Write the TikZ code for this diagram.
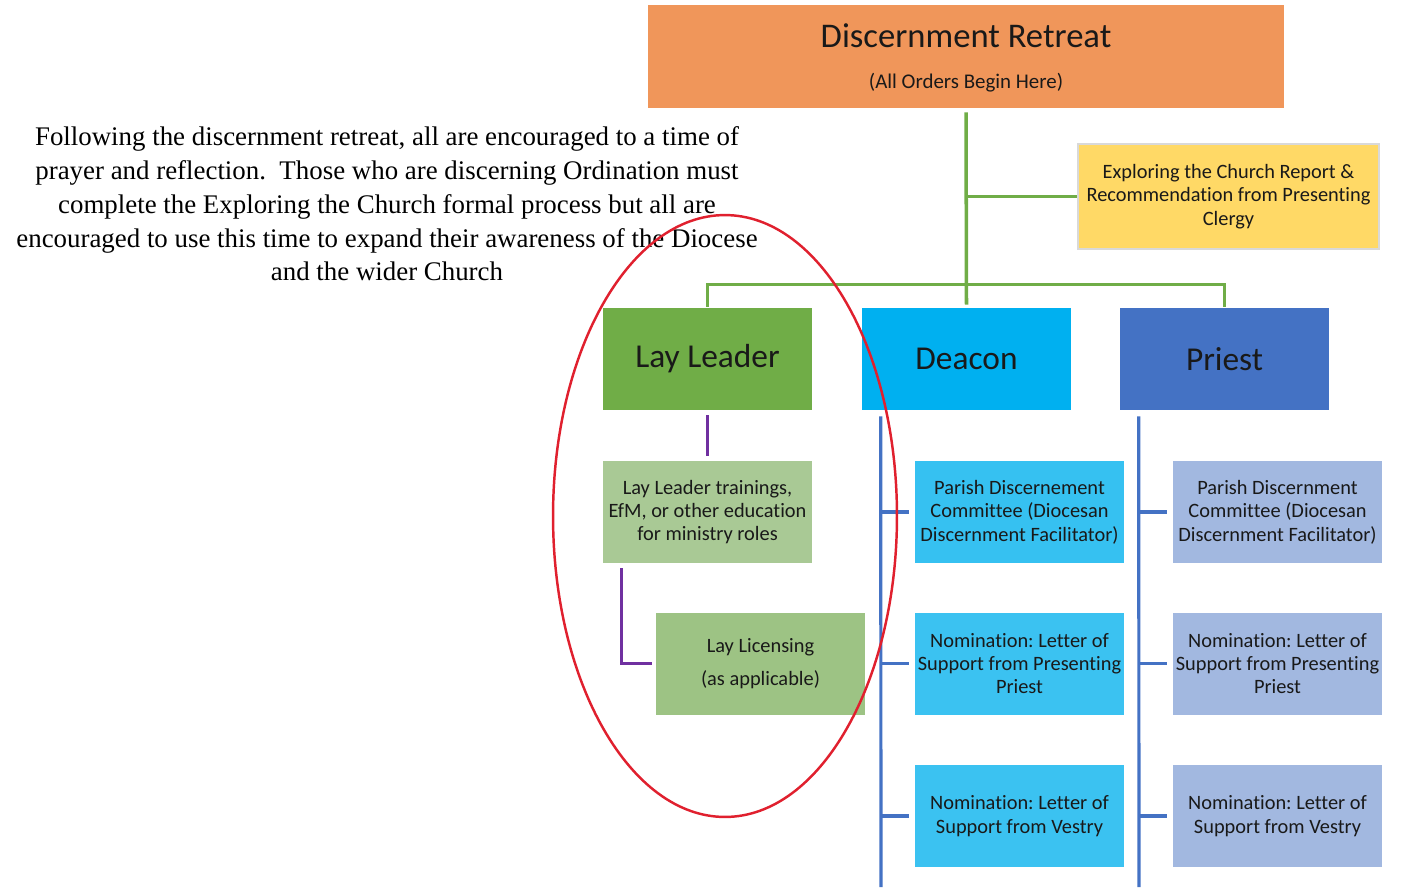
\documentclass[tikz,border=0pt]{standalone}
\usepackage{fontspec}
\setmainfont{Liberation Serif}
\newfontfamily\calib[Ligatures=NoCommon]{Carlito}
\usetikzlibrary{calc}
\frenchspacing
\definecolor{cOrange}{HTML}{F0965A}
\definecolor{cYellow}{HTML}{FFD966}
\definecolor{cYBorder}{HTML}{D9D9D9}
\definecolor{cLay}{HTML}{70AD47}
\definecolor{cDeacon}{HTML}{00B0F0}
\definecolor{cPriest}{HTML}{4472C4}
\definecolor{cTrain}{HTML}{A9C995}
\definecolor{cLic}{HTML}{9DC384}
\definecolor{cDkid}{HTML}{3BC2F1}
\definecolor{cPkid}{HTML}{A2B8E0}
\definecolor{cPurp}{HTML}{7030A0}
\definecolor{cRed}{HTML}{E0202E}
\tikzset{
  box/.style={rectangle, inner sep=0pt, align=center, text=black!90, font=\calib,
    minimum width=4.18cm, minimum height=2.04cm},
  bigbox/.style={box, font=\calib\fontsize{19}{22}\selectfont},
  smallbox/.style={box, font=\calib\fontsize{11.6}{13.3}\selectfont},
  grnline/.style={draw=cLay, line width=2pt},
  bluline/.style={draw=cPriest, line width=1.8pt},
  purline/.style={draw=cPurp, line width=1.8pt},
}
\begin{document}
\begin{tikzpicture}[x=0.02cm, y=-0.02cm]
\useasboundingbox (0,0) rectangle (1405,887);
% top box
\node[box, fill=cOrange, minimum width=12.72cm, minimum height=2.06cm] (retreat) at (966,56.5) {};
\node[font=\calib\fontsize{19.7}{22}\selectfont, text=black!90, anchor=base] (rtitle) at (966,47) {Discernment Retreat};
\node[font=\calib\fontsize{11.9}{13}\selectfont, text=black!90, anchor=base] (rsub) at (966,88) {(All Orders Begin Here)};
% exploring box
\node[smallbox, fill=cYellow, draw=cYBorder, line width=1.6pt, minimum width=6.02cm, minimum height=2.1cm] (explore) at (1228.5,196.5)
  {Exploring the Church Report \&\\ Recommendation from Presenting\\ Clergy};
% level 2
\node[bigbox, fill=cLay] (lay) at (707.5,359) {Lay Leader};
\node[bigbox, fill=cDeacon] (deacon) at (966.5,359) {Deacon};
\node[bigbox, fill=cPriest] (priest) at (1224.5,359) {Priest};
% lay children
\node[smallbox, fill=cTrain] (train) at (707.5,512) {Lay Leader trainings,\\ EfM, or other education\\ for ministry roles};
\node[smallbox, fill=cLic, font=\calib\fontsize{11.6}{18.5}\selectfont] (lic) at (760.5,663.5) {Lay Licensing\\ (as applicable)};
% deacon children
\node[smallbox, fill=cDkid!92!cDeacon] (d1) at (1019.5,512) {Parish Discernement\\ Committee (Diocesan\\ Discernment Facilitator)};
\node[smallbox, fill=cDkid] (d2) at (1019.5,663.5) {Nomination: Letter of\\ Support from Presenting\\ Priest};
\node[smallbox, fill=cDkid] (d3) at (1019.5,816) {Nomination: Letter of\\ Support from Vestry};
% priest children
\node[smallbox, fill=cPkid] (p1) at (1277.5,512) {Parish Discernment\\ Committee (Diocesan\\ Discernment Facilitator)};
\node[smallbox, fill=cPkid] (p2) at (1277.5,663.5) {Nomination: Letter of\\ Support from Presenting\\ Priest};
\node[smallbox, fill=cPkid] (p3) at (1277.5,816) {Nomination: Letter of\\ Support from Vestry};
% green connectors
\draw[grnline, shorten <=0.08cm, shorten >=0.06cm] (retreat.south) -- (deacon.north);
\draw[grnline] (retreat.south |- explore.west) -- (explore.west);
\draw[grnline, shorten <=0.02cm, shorten >=0.02cm] (lay.north) -- ++(0,-23) -| (priest.north);
% purple connectors
\draw[purline, shorten <=0.1cm, shorten >=0.1cm] (lay.south) -- (train.north);
\draw[purline] ($(train.south west)+(19,5)$) |- ($(lic.west)+(-4,0)$);
% blue connectors
\coordinate (dEnd) at (881,887);
\coordinate (pEnd) at (1139,887);
\draw[bluline] ($(deacon.south west)+(19,6)$) -- (dEnd);
\draw[bluline] ($(priest.south west)+(19,6)$) -- (pEnd);
\foreach \k in {d1,d2,d3}{\draw[bluline] (dEnd |- \k.west) -- ($(\k.west)+(-6,0)$);}
\foreach \k in {p1,p2,p3}{\draw[bluline] (pEnd |- \k.west) -- ($(\k.west)+(-6,0)$);}
% paragraph
\node[align=center, font=\fontsize{15.3}{19.3}\selectfont, text=black, anchor=north, inner sep=0pt] (para) at (387,126)
 {Following the discernment retreat, all are encouraged to a time of\\
  prayer and reflection.\ \ Those who are discerning Ordination must\\
  complete the Exploring the Church formal process but all are\\
  encouraged to use this time to expand their awareness of the Diocese\\
  and the wider Church};
% red ellipse
\draw[cRed, line width=1.4pt] (725,516) ellipse [x radius=3.44cm, y radius=6.02cm];
\end{tikzpicture}
\end{document}
